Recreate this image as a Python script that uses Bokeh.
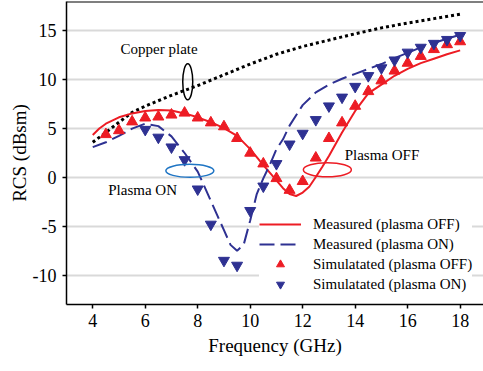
from bokeh.plotting import figure
from bokeh.models import Span, FixedTicker
from bokeh.embed import file_html
from bokeh.resources import INLINE
from bokeh.core.properties import value

# Measured (plasma OFF)
meas_off_f = [4.0, 4.25, 4.5, 5.0, 5.5, 6.0, 6.5, 7.0, 7.5, 8.0, 8.5, 9.0, 9.5, 10.0, 10.5,
              11.0, 11.25, 11.5, 11.75, 12.0, 12.25, 12.5, 12.75, 13.0, 13.25, 13.5, 14.0,
              14.5, 15.0, 15.5, 16.0, 16.5, 17.0, 17.5, 18.0]
meas_off_v = [4.35, 5.0, 5.5, 6.15, 6.55, 6.8, 6.9, 6.85, 6.55, 6.15, 5.65, 5.05, 4.25, 2.9, 1.25,
              -0.3, -1.1, -1.7, -1.9, -1.55, -0.95, 0.05, 1.1, 2.2, 3.4, 4.6, 6.8,
              8.6, 9.5, 10.4, 11.1, 11.7, 12.15, 12.6, 13.0]

# Measured (plasma ON)
meas_on_f = [4.0, 4.5, 5.0, 5.5, 6.0, 6.5, 7.0, 7.5, 8.0, 8.5, 9.0, 9.25, 9.5, 9.75, 10.0,
             10.25, 10.5, 10.75, 11.0, 11.25, 11.5, 12.0, 12.5, 13.0, 13.5, 14.0, 14.5,
             15.0, 15.5, 16.0, 16.5, 17.0, 17.5, 18.0]
meas_on_v = [3.1, 3.6, 4.25, 5.0, 5.5, 5.25, 4.2, 2.5, 0.6, -2.4, -5.4, -6.9, -7.5, -6.9, -4.4,
             -1.7, -0.1, 1.3, 2.9, 3.9, 5.3, 7.4, 8.7, 9.5, 10.1, 10.6, 11.1,
             11.6, 12.2, 12.75, 13.3, 13.75, 14.2, 14.6]

# Simulated (plasma OFF)
sim_off_f = [4.5, 5.0, 5.5, 6.0, 6.5, 7.0, 7.5, 8.0, 8.5, 9.0, 9.5, 10.0, 10.5, 11.0,
             11.5, 12.0, 12.5, 13.0, 13.5, 14.0, 14.5, 15.0, 15.5, 16.0, 16.5, 17.0, 17.5, 18.0]
sim_off_v = [4.4, 4.8, 5.7, 6.1, 6.2, 6.4, 6.6, 6.1, 5.6, 5.2, 4.0, 2.5, 1.4, -0.1,
             -1.3, -0.4, 2.0, 4.0, 5.6, 7.3, 8.8, 9.9, 10.9, 11.7, 12.4, 13.1, 13.6, 13.9]

# Simulated (plasma ON)
sim_on_f = [6.0, 6.5, 7.0, 7.5, 8.0, 8.5, 9.0, 9.5, 10.0, 10.5, 11.0, 11.5, 12.0, 12.5,
            13.0, 13.5, 14.0, 14.5, 15.0, 15.5, 16.0, 16.5, 17.0, 17.5, 18.0]
sim_on_v = [4.9, 4.1, 3.1, 1.8, -1.2, -4.8, -8.5, -9.0, -3.4, -0.9, 1.4, 3.4, 4.5, 5.9,
            7.3, 8.2, 9.3, 10.4, 11.2, 12.0, 12.8, 13.3, 13.7, 14.1, 14.5]

# Copper plate
copper_f = [4.0, 4.5, 5.0, 5.5, 6.0, 7.0, 8.0, 9.0, 10.0, 11.0, 12.0, 13.0, 14.0, 15.0, 16.0, 17.0, 18.0]
copper_v = [3.6, 4.6, 5.65, 6.65, 7.3, 8.4, 9.4, 10.5, 11.6, 12.6, 13.4, 14.05, 14.7, 15.3, 15.8, 16.25, 16.7]

x_ticks = [4, 6, 8, 10, 12, 14, 16, 18]
y_ticks = [-10, -5, 0, 5, 10, 15]
y_tick_labels = ["-10", "-5", "0", "5", "10", "15"]

RED = "#ed1c24"
BLUE = "#2e3192"
FONT = "Liberation Serif"

p = figure(width=483, height=371, x_range=(3.0, 18.89), y_range=(-13, 18),
           output_backend="svg", toolbar_location=None,
           min_border_left=66, min_border_right=0, min_border_top=1, min_border_bottom=67)
p.outline_line_color = None
p.background_fill_color = "white"

p.xgrid.grid_line_color = None
p.ygrid.grid_line_color = "#d9d9d9"
p.ygrid.grid_line_width = 2

p.xaxis.ticker = FixedTicker(ticks=x_ticks)
p.yaxis.ticker = FixedTicker(ticks=y_ticks)
p.yaxis.major_label_overrides = {t: s for t, s in zip(y_ticks, y_tick_labels)}
p.axis.axis_line_color = "black"
p.axis.axis_line_width = 1.5
p.axis.major_tick_line_color = "black"
p.axis.major_tick_line_width = 1.5
p.axis.major_tick_in = 0
p.axis.major_tick_out = 4
p.axis.minor_tick_line_color = None
p.axis.major_label_text_font = FONT
p.axis.major_label_text_font_size = "18px"
p.axis.major_label_text_color = "black"
p.axis.axis_label_text_font = FONT
p.axis.axis_label_text_font_size = "19px"
p.axis.axis_label_text_font_style = "normal"
p.axis.axis_label_text_color = "black"

p.xaxis.axis_label = "Frequency (GHz)"
p.yaxis.axis_label = "RCS (dBsm)"
p.xaxis.major_label_standoff = 5
p.yaxis.major_label_standoff = 6
p.xaxis.axis_label_standoff = 5
p.yaxis.axis_label_standoff = 0

p.add_layout(Span(location=18, dimension="width", line_color="black", line_width=2))

# copper plate
p.line(copper_f, copper_v, line_color="black", line_width=3, line_dash="3 3")

p.line(meas_off_f, meas_off_v, line_color=RED, line_width=2, legend_label="Measured (plasma OFF)")
p.line(meas_on_f, meas_on_v, line_color=BLUE, line_width=2, line_dash="15 6",
       legend_label="Measured (plasma ON)")
p.scatter(sim_off_f, sim_off_v, marker="triangle", size=11, fill_color=RED, line_color=RED,
          legend_label="Simulatated (plasma OFF)")
p.scatter(sim_on_f, sim_on_v, marker="inverted_triangle", size=11, fill_color=BLUE, line_color=BLUE,
          legend_label="Simulatated (plasma ON)")

# annotation ellipses
p.ellipse(x=[7.62], y=[9.78], width=10, height=36, width_units="screen", height_units="screen",
          fill_color=None, line_color="black", line_width=1.5)
p.ellipse(x=[7.70], y=[0.68], width=48, height=13, width_units="screen", height_units="screen",
          fill_color=None, line_color="#1f75c4", line_width=1.5)
p.ellipse(x=[12.94], y=[0.79], width=48, height=14, width_units="screen", height_units="screen",
          fill_color=None, line_color=RED, line_width=1.5)

p.text(x=[6.53], y=[13.15], text=["Copper plate"], text_font=value(FONT), text_font_size="15px",
       text_align="center", text_baseline="middle", text_color="black")
p.text(x=[5.9], y=[-1.26], text=["Plasma ON"], text_font=value(FONT), text_font_size="15px",
       text_align="center", text_baseline="middle", text_color="black")
p.text(x=[15.02], y=[2.32], text=["Plasma OFF"], text_font=value(FONT), text_font_size="15px",
       text_align="center", text_baseline="middle", text_color="black")

lg = p.legend[0]
lg.location = (193, 10)
lg.label_text_font = FONT
lg.label_text_font_size = "15px"
lg.label_text_color = "black"
lg.glyph_width = 42
lg.glyph_height = 20
lg.label_height = 20
lg.label_standoff = 12
lg.padding = 5
lg.spacing = 0
lg.margin = 0
lg.border_line_color = None
lg.background_fill_color = "white"
lg.background_fill_alpha = 1.0

open("out.html", "w").write(file_html(p, INLINE))
